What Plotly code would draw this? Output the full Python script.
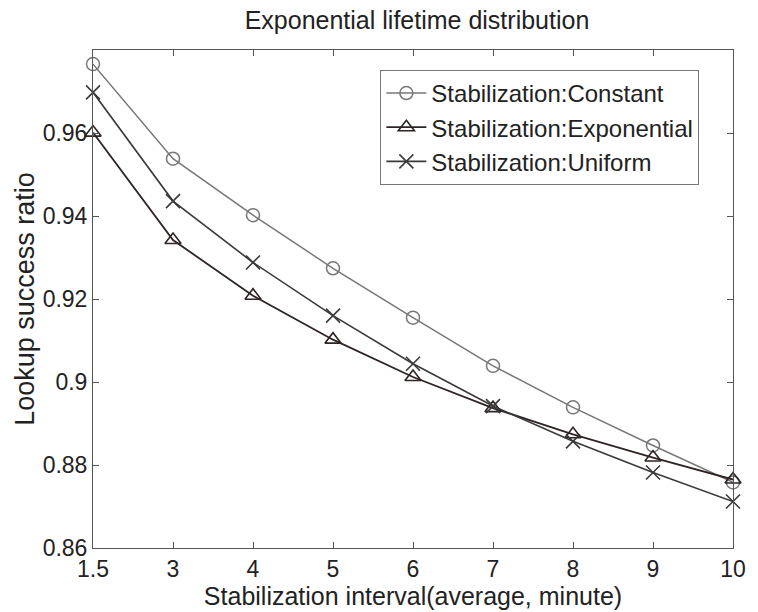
import plotly.graph_objects as go

x_labels = ["1.5", "3", "4", "5", "6", "7", "8", "9", "10"]
constant = [0.9766, 0.9538, 0.9402, 0.9274, 0.9155, 0.9039, 0.8939, 0.8847, 0.8758]
exponential = [0.9601, 0.9342, 0.9208, 0.9102, 0.9012, 0.8937, 0.8874, 0.8818, 0.8765]
uniform = [0.9698, 0.9436, 0.9288, 0.9160, 0.9044, 0.8942, 0.8857, 0.8782, 0.8712]
y_ticks = [0.86, 0.88, 0.90, 0.92, 0.94, 0.96]
y_ticktext = ["0.86", "0.88", "0.9", "0.92", "0.94", "0.96"]

xi = list(range(len(x_labels)))
font = "Liberation Sans, Arial, sans-serif"

fig = go.Figure()
fig.add_trace(go.Scatter(x=xi, y=constant, name="Stabilization:Constant", mode="lines+markers",
                         line=dict(color="#777777", width=1.5),
                         marker=dict(symbol="circle-open", size=13, color="#777777", line=dict(width=1.5)),
                         cliponaxis=False))
fig.add_trace(go.Scatter(x=xi, y=exponential, name="Stabilization:Exponential", mode="lines+markers",
                         line=dict(color="#2e2424", width=1.8),
                         marker=dict(symbol="triangle-up-open", size=14, color="#2e2424", line=dict(width=1.6)),
                         cliponaxis=False))
fig.add_trace(go.Scatter(x=xi, y=uniform, name="Stabilization:Uniform", mode="lines+markers",
                         line=dict(color="#3a3a3a", width=1.6),
                         marker=dict(symbol="x-thin-open", size=14, color="#3a3a3a", line=dict(width=1.6)),
                         cliponaxis=False))

fig.update_layout(
    width=758, height=612,
    margin=dict(l=93, r=17, t=50, b=64),
    paper_bgcolor="white", plot_bgcolor="white",
    font=dict(family=font, size=23, color="#222222"),
    title=dict(text="Exponential lifetime distribution", x=(93 + 741) / 2 / 758, xanchor="center",
               y=1 - 20 / 612, yanchor="middle", font=dict(size=25)),
    showlegend=True,
    legend=dict(x=0.449, y=0.96, xanchor="left", yanchor="top", bgcolor="white",
                bordercolor="#777777", borderwidth=1, font=dict(size=24),
                tracegroupgap=0, itemwidth=40),
)
fig.update_xaxes(range=[0, 8], tickvals=xi, ticktext=x_labels, ticks="inside", ticklen=6,
                 tickcolor="#555555", showline=True, linecolor="#555555", linewidth=1, mirror="ticks",
                 showgrid=False, zeroline=False,
                 title=dict(text="Stabilization interval(average, minute)", standoff=0, font=dict(size=25)),
                 tickfont=dict(size=23))
fig.update_yaxes(range=[0.86, 0.98], tickvals=y_ticks, ticktext=y_ticktext, ticks="inside", ticklen=6,
                 tickcolor="#555555", showline=True, linecolor="#555555", linewidth=1, mirror="ticks",
                 showgrid=False, zeroline=False,
                 title=dict(text="Lookup success ratio", standoff=0, font=dict(size=27)),
                 tickfont=dict(size=23))

fig.write_html("out.html")
